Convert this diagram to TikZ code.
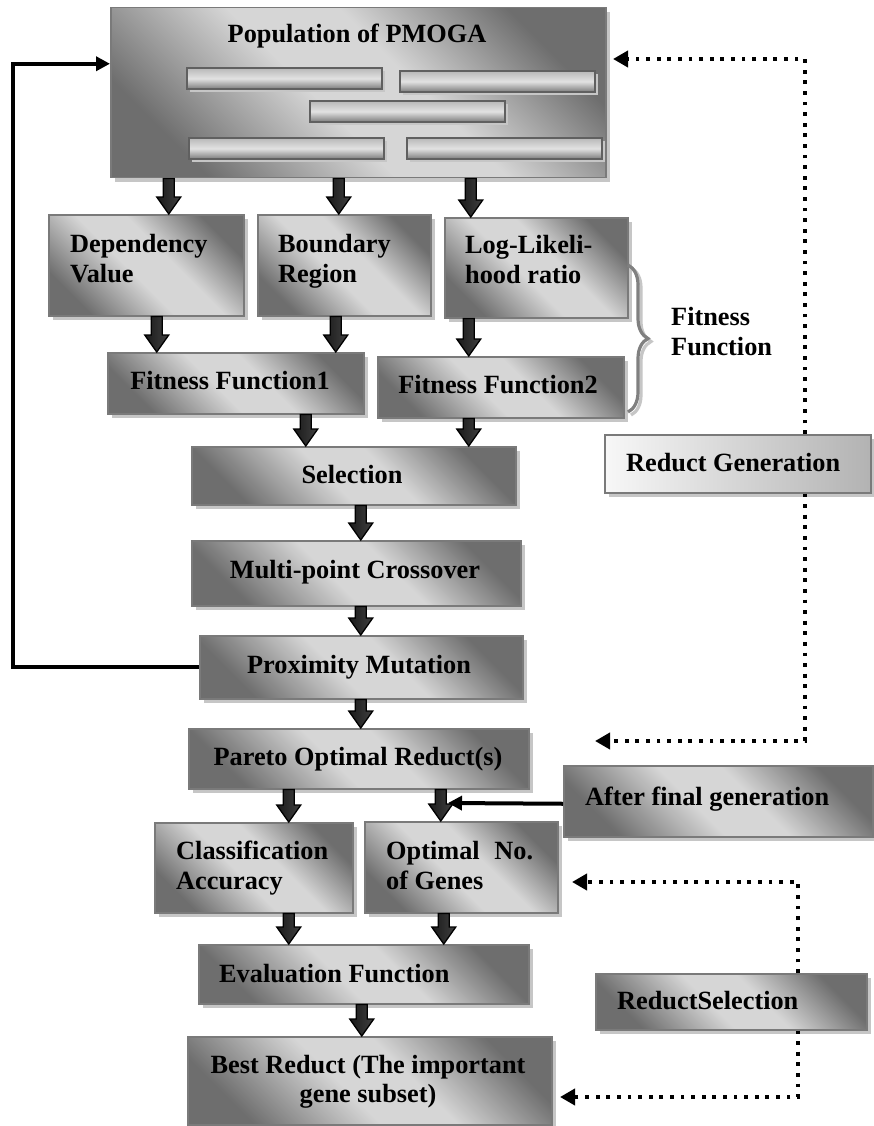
\documentclass[tikz,border=0pt]{standalone}
\usepackage{fontspec}
\setmainfont{Liberation Serif}
\usetikzlibrary{shadows,arrows.meta,decorations.pathreplacing,calc}
\definecolor{gdark}{HTML}{6E6E6E}
\definecolor{glight}{HTML}{D6D6D6}
\definecolor{gedge}{HTML}{7A7A7A}
\definecolor{gshadow}{HTML}{C6C6C6}
\definecolor{bartop}{HTML}{B8B8B8}
\definecolor{barmid}{HTML}{E2E2E2}
\definecolor{barbot}{HTML}{7C7C7C}
\pgfdeclareverticalshading{boxsh}{100bp}{color(0bp)=(gdark); color(25bp)=(gdark); color(45bp)=(glight); color(57bp)=(glight); color(75bp)=(gdark); color(100bp)=(gdark)}
\tikzset{
  box/.style={draw=gedge, line width=1.5pt, inner sep=0pt, anchor=north west,
    shade, shading=boxsh, shading angle=-45,
    drop shadow={shadow xshift=4pt, shadow yshift=-4pt, fill=gshadow, opacity=1}},
  lightbox/.style={draw=gedge, line width=1.5pt, inner sep=0pt, anchor=north west,
    left color=white!94!gray, right color=gray!60,
    drop shadow={shadow xshift=4pt, shadow yshift=-4pt, fill=gshadow, opacity=1}},
  bar/.style={draw=gray!75!black, line width=2pt, inner sep=0pt, anchor=north west,
    minimum width=195pt, minimum height=21pt,
    top color=bartop, bottom color=barbot, middle color=barmid,
    drop shadow={shadow xshift=3pt, shadow yshift=-3pt, fill=gshadow, opacity=1}},
  lbl/.style={font=\bfseries\fontsize{26.3}{30}\selectfont, inner sep=0pt, text=black},
  barrow/.style={draw=black, line width=1.3pt, left color=black!90, middle color=gray!75!black, right color=black!75,
    to path={let \p1=(\tikztostart), \p2=(\tikztotarget) in
      (\x1-5.5pt,\y1) -- (\x1-5.5pt,\y2+17pt) -- (\x1-12pt,\y2+17pt) -- (\x1,\y2)
      -- (\x1+12pt,\y2+17pt) -- (\x1+5.5pt,\y2+17pt) -- (\x1+5.5pt,\y1) -- cycle}},
  dotarrow/.style={line width=4.2pt, dash pattern=on 3.8pt off 6.8pt,
    -{Triangle[length=15pt,width=16pt]}},
  solidarrow/.style={line width=4pt, -{Triangle[length=14pt,width=14pt]}},
  bracestyle/.style={decorate, decoration={brace, amplitude=20pt}, line width=3.2pt}
}
\begin{document}
\begin{tikzpicture}[x=1pt,y=-1pt]
\useasboundingbox (0,0) rectangle (874,1126);
\fill[white] (0,0) rectangle (874,1126);

% helper coordinates
\coordinate (loopx) at (13,400);
\coordinate (vx) at (805,0);
\coordinate (popin) at (613,59);
\coordinate (parin) at (595,741);
\coordinate (vx2) at (798,0);
\coordinate (optin2) at (572,882);
\coordinate (bestin) at (560,1097);
\coordinate (optin) at (448,803);
\coordinate (braceT) at (628,265);
\coordinate (braceB) at (628,412);
\coordinate (braceTs) at (631,268);
\coordinate (braceBs) at (631,415);

% boxes
\node[box, minimum width=495pt, minimum height=170pt] (pop) at (110,7) {};
\node[bar] (bar1) at (186,67) {};
\node[bar] (bar2) at (399,70) {};
\node[bar] (bar3) at (309,100) {};
\node[bar] (bar4) at (188,137) {};
\node[bar] (bar5) at (406,137) {};
\node[box, minimum width=195pt, minimum height=101pt] (dep) at (48,214) {};
\node[box, minimum width=173pt, minimum height=101pt] (bnd) at (257,214) {};
\node[box, minimum width=183pt, minimum height=100pt] (llr) at (444,217) {};
\node[box, minimum width=256pt, minimum height=61pt] (ff1) at (107,352) {};
\node[box, minimum width=246pt, minimum height=61pt] (ff2) at (377,356) {};
\node[box, minimum width=324pt, minimum height=58pt] (sel) at (191,446) {};
\node[box, minimum width=329pt, minimum height=65pt] (mpc) at (191,540) {};
\node[box, minimum width=323pt, minimum height=63pt] (prox) at (199,635) {};
\node[box, minimum width=340pt, minimum height=60pt] (par) at (188,728) {};
\node[box, minimum width=198pt, minimum height=90pt] (cls) at (154,822) {};
\node[box, minimum width=193pt, minimum height=91pt] (opt) at (364,821) {};
\node[box, minimum width=309pt, minimum height=71pt] (afg) at (563,765) {};
\node[lightbox, minimum width=266pt, minimum height=58pt] (rg) at (604,434) {};
\node[box, minimum width=330pt, minimum height=59pt] (eval) at (198,944) {};
\node[box, minimum width=364pt, minimum height=88pt] (best) at (187,1036) {};
\node[box, minimum width=271pt, minimum height=56pt] (rs) at (595,973) {};

% labels
\node[lbl, anchor=base] (tpop) at (357,43) {Population of PMOGA};
\node[lbl, anchor=base west] (tdep1) at (70,252) {Dependency};
\node[lbl, anchor=base west] (tdep2) at (70,282) {Value};
\node[lbl, anchor=base west] (tbnd1) at (278,252) {Boundary};
\node[lbl, anchor=base west] (tbnd2) at (278,282) {Region};
\node[lbl, anchor=base west] (tllr1) at (465,253) {Log-Likeli-};
\node[lbl, anchor=base west] (tllr2) at (465,283) {hood ratio};
\node[lbl, anchor=base] (tff1) at (230,389) {Fitness Function1};
\node[lbl, anchor=base] (tff2) at (498,393) {Fitness Function2};
\node[lbl, anchor=base west] (tfit1) at (671,325) {Fitness};
\node[lbl, anchor=base west] (tfit2) at (671,355) {Function};
\node[lbl, anchor=base west] (trg) at (626,471) {Reduct Generation};
\node[lbl, anchor=base] (tsel) at (352,483) {Selection};
\node[lbl, anchor=base] (tmpc) at (355,578) {Multi-point Crossover};
\node[lbl, anchor=base] (tprox) at (359,673) {Proximity Mutation};
\node[lbl, anchor=base] (tpar) at (358,765) {Pareto Optimal Reduct(s)};
\node[lbl, anchor=base west] (tafg) at (585,805) {After final generation};
\node[lbl, anchor=base west] (tcls1) at (176,859) {Classification};
\node[lbl, anchor=base west] (tcls2) at (176,889) {Accuracy};
\node[lbl, anchor=base west] (topt1) at (386,859) {\makebox[147pt][s]{Optimal No.}};
\node[lbl, anchor=base west] (topt2) at (386,889) {of Genes};
\node[lbl, anchor=base west] (teval) at (219,982) {Evaluation Function};
\node[lbl, anchor=base] (tbest1) at (368,1073) {Best Reduct (The important};
\node[lbl, anchor=base] (tbest2) at (368,1102) {gene subset)};
\node[lbl, anchor=base west] (trs) at (617,1009) {ReductSelection};

% block arrows
\path[barrow] ([xshift=-189.5pt]pop.south) to (dep.north);
\path[barrow] ([xshift=-19.5pt]pop.south) to (bnd.north);
\path[barrow] ([xshift=112.5pt]pop.south) to (llr.north);
\path[barrow] ([xshift=10.5pt]dep.south) to (ff1.north);
\path[barrow] ([xshift=-8.5pt]bnd.south) to (ff1.north);
\path[barrow] ([xshift=-67.5pt]llr.south) to (ff2.north);
\path[barrow] ([xshift=70pt]ff1.south) to (sel.north);
\path[barrow] ([xshift=-32pt]ff2.south) to (sel.north);
\path[barrow] ([xshift=7pt]sel.south) to (mpc.north);
\path[barrow] ([xshift=4.5pt]mpc.south) to (prox.north);
\path[barrow] ([xshift=-0.5pt]prox.south) to (par.north);
\path[barrow] ([xshift=-70pt]par.south) to (cls.north);
\path[barrow] ([xshift=82pt]par.south) to (opt.north);
\path[barrow] ([xshift=35pt]cls.south) to (eval.north);
\path[barrow] ([xshift=-17.5pt]opt.south) to (eval.north);
\path[barrow] ([xshift=-2pt]eval.south) to (best.north);

% brace
\draw[bracestyle, draw=gshadow] (braceTs) -- (braceBs);
\draw[bracestyle, draw=gray] (braceT) -- (braceB);

% connectors
\draw[solidarrow] (prox.west) -| (loopx) |- ([yshift=29pt]pop.west);
\draw[solidarrow] ([yshift=-2.5pt]afg.west) -- (optin);
\draw[dotarrow] (rg.north -| vx) |- (popin);
\draw[dotarrow] (rg.south -| vx) |- (parin);
\draw[dotarrow] (rs.north -| vx2) |- (optin2);
\draw[dotarrow] (rs.south -| vx2) |- (bestin);
\end{tikzpicture}
\end{document}
